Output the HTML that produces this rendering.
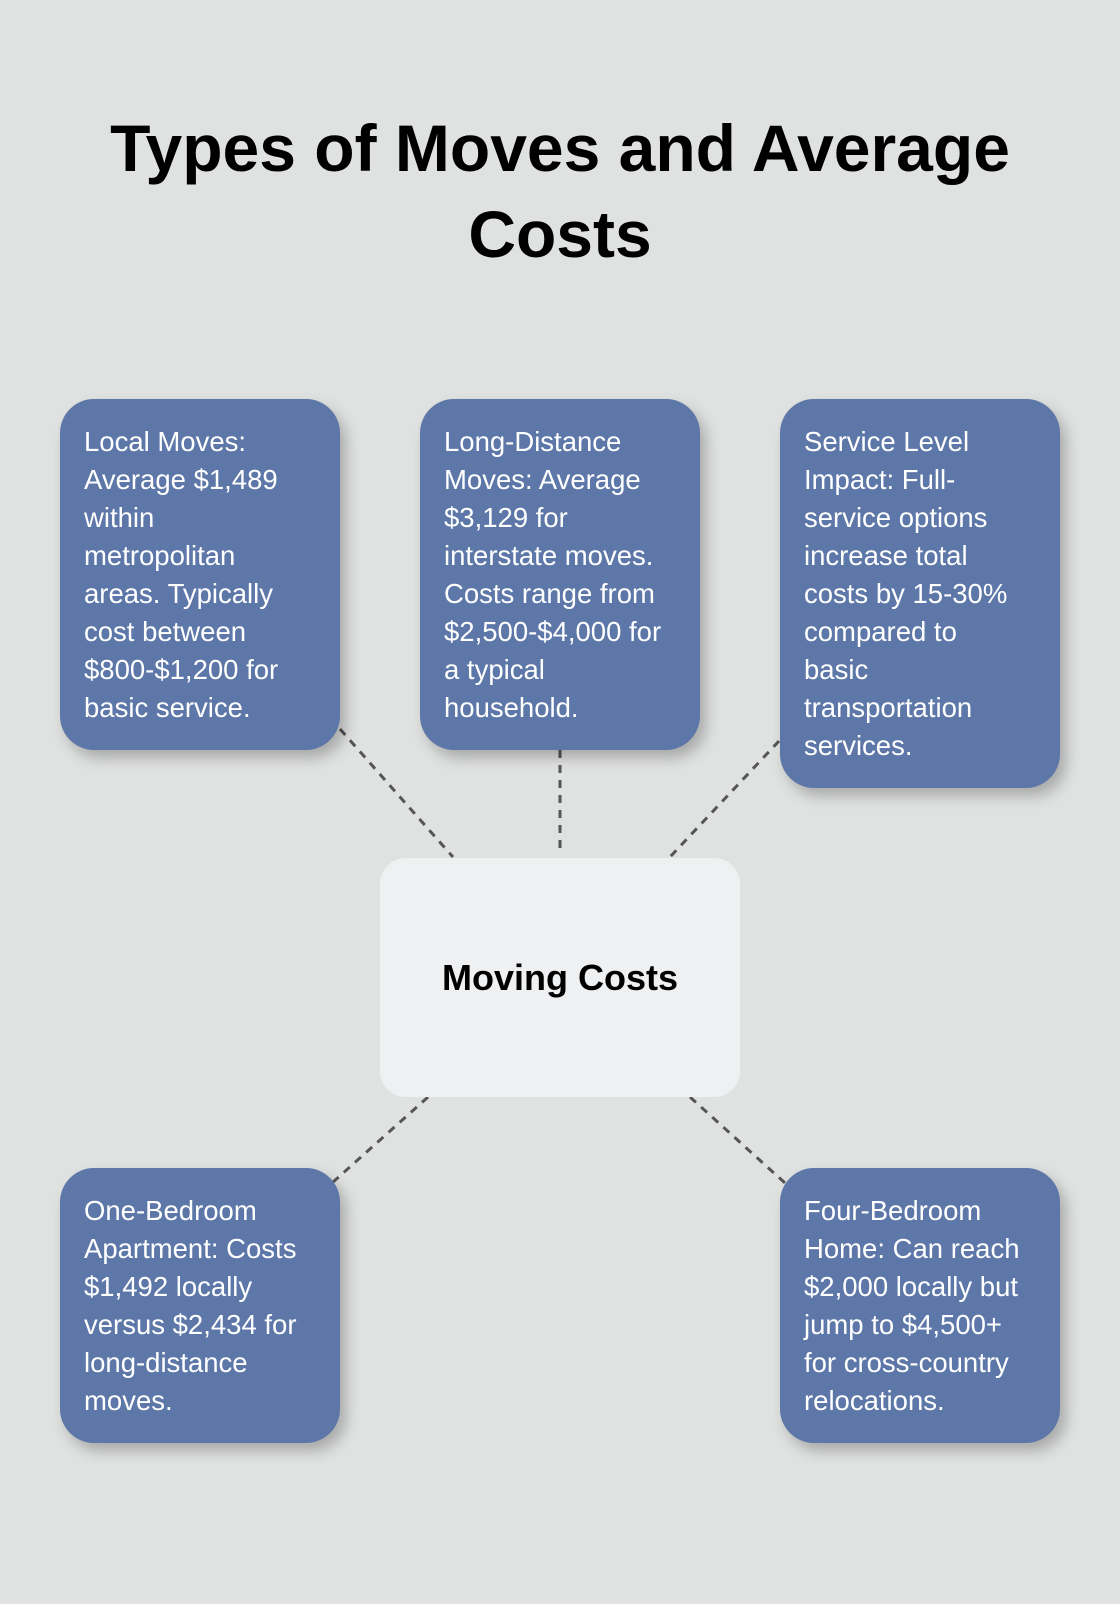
<!DOCTYPE html>
<html><head><meta charset="utf-8"><style>
body{margin:0;width:1120px;height:1604px;background:#e0e2e1;font-family:"Liberation Sans","DejaVu Sans",sans-serif;position:relative;overflow:hidden}
h1{position:absolute;left:0;width:1120px;top:105px;margin:0;text-align:center;font-size:66px;line-height:86px;font-weight:bold;color:#000}
.b{position:absolute;background:#5d77a8;border-radius:34px;color:#fff;font-size:27.5px;line-height:38px;padding:24px 24px;box-sizing:border-box;box-shadow:6px 8px 14px rgba(0,0,0,0.25);white-space:nowrap}
.c{position:absolute;left:380px;top:861px;width:360px;height:239px;background:#eff0f2;border-radius:26px;display:flex;align-items:center;justify-content:center;font-weight:bold;font-size:36px;color:#000}
svg{position:absolute;left:0;top:0}
</style></head><body>
<h1>Types of Moves and Average<br>Costs</h1>
<svg width="1120" height="1604"><g stroke="#555" stroke-width="3" stroke-dasharray="8,7">
<line x1="340" y1="729" x2="453" y2="857"/>
<line x1="560" y1="750" x2="560" y2="852"/>
<line x1="779" y1="741" x2="670" y2="857"/>
<line x1="428" y1="1097" x2="332" y2="1183"/>
<line x1="690" y1="1097" x2="785" y2="1183"/>
</g></svg>
<div class="b" style="left:60px;top:399px;width:280px;height:351px">Local Moves:<br>Average $1,489<br>within<br>metropolitan<br>areas. Typically<br>cost between<br>$800-$1,200 for<br>basic service.</div>
<div class="b" style="left:420px;top:399px;width:280px;height:351px">Long-Distance<br>Moves: Average<br>$3,129 for<br>interstate moves.<br>Costs range from<br>$2,500-$4,000 for<br>a typical<br>household.</div>
<div class="b" style="left:780px;top:399px;width:280px;height:389px">Service Level<br>Impact: Full-<br>service options<br>increase total<br>costs by 15-30%<br>compared to<br>basic<br>transportation<br>services.</div>
<div class="c" style="top:858px">Moving Costs</div>
<div class="b" style="left:60px;top:1168px;width:280px;height:275px">One-Bedroom<br>Apartment: Costs<br>$1,492 locally<br>versus $2,434 for<br>long-distance<br>moves.</div>
<div class="b" style="left:780px;top:1168px;width:280px;height:275px">Four-Bedroom<br>Home: Can reach<br>$2,000 locally but<br>jump to $4,500+<br>for cross-country<br>relocations.</div>
</body></html>
